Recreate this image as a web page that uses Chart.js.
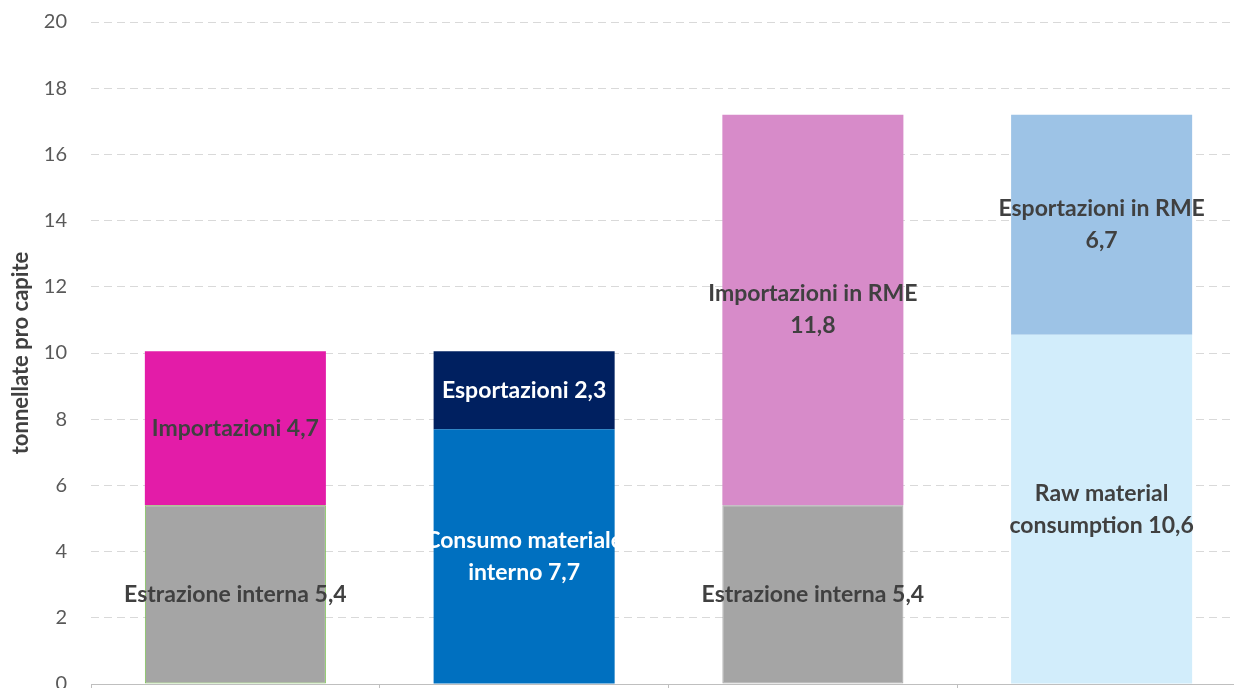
<!DOCTYPE html>
<html>
<head>
<meta charset="utf-8">
<script src="https://cdn.jsdelivr.net/npm/chart.js@4/dist/chart.umd.min.js"></script>
<style>
  html, body { margin: 0; padding: 0; background: #fff; overflow: hidden; }
  #wrap { width: 1260px; height: 720px; }
</style>
</head>
<body>
<div id="wrap"><canvas id="chart"></canvas></div>
<script>
// categories (x labels are cut off in the reference, so not shown)
const categories = ["DMI", "DMC", "RMI", "RMC"];

// stacked segments, bottom first (heights)
const estrazione     = [5.4, null, 5.4, null];
const importazioni   = [4.65, null, null, null];
const consumo        = [null, 7.7, null, null];
const esportazioni   = [null, 2.35, null, null];
const importRME      = [null, null, 11.8, null];
const rawConsumption = [null, null, null, 10.55];
const exportRME      = [null, null, null, 6.65];

// in-bar labels (one per segment)
const lblEstrazione   = ["Estrazione interna 5,4", null, "Estrazione interna 5,4", null];
const lblImport       = ["Importazioni 4,7", null, null, null];
const lblConsumo      = [null, "Consumo materiale\ninterno 7,7", null, null];
const lblEsport       = [null, "Esportazioni 2,3", null, null];
const lblImportRME    = [null, null, "Importazioni in RME\n11,8", null];
const lblRaw          = [null, null, null, "Raw material\nconsumption 10,6"];
const lblExportRME    = [null, null, null, "Esportazioni in RME\n6,7"];

const yTicks = [0, 2, 4, 6, 8, 10, 12, 14, 16, 18, 20];

const FONT = "Lato, 'Open Sans', sans-serif";

// draws centered labels inside each segment
const segmentLabelPlugin = {
  id: "segmentLabelPlugin",
  afterDatasetsDraw(chart) {
    const { ctx } = chart;
    ctx.save();
    ctx.font = `bold 23px ${FONT}`;
    ctx.textAlign = "center";
    ctx.textBaseline = "middle";
    chart.data.datasets.forEach((ds, di) => {
      const meta = chart.getDatasetMeta(di);
      meta.data.forEach((bar, i) => {
        const txt = ds.segLabels[i];
        if (!txt || ds.data[i] == null) return;
        const lines = txt.split("\n");
        const cy = (bar.y + bar.base) / 2;
        const lh = 32;
        ctx.fillStyle = ds.labelColor || "#404040";
        lines.forEach((ln, k) => {
          ctx.fillText(ln, bar.x, cy + (k - (lines.length - 1) / 2) * lh);
        });
      });
    });
    ctx.restore();
  }
};

const ctx = document.getElementById("chart").getContext("2d");

new Chart(ctx, {
  type: "bar",
  data: {
    labels: categories,
    datasets: [
      { label: "Estrazione interna", data: estrazione, segLabels: lblEstrazione,
        backgroundColor: "#a5a5a5",
        // only the first bar has the thin green outline
        borderColor: ["#7cc253", "#a5a5a5", "#a5a5a5", "#a5a5a5"],
        borderWidth: 1,
        inflateAmount: 0,
        borderSkipped: false },
      { label: "Importazioni", data: importazioni, segLabels: lblImport, backgroundColor: "#e31ca8" },
      { label: "Consumo materiale interno", data: consumo, segLabels: lblConsumo,
        backgroundColor: "#0070c0", labelColor: "#ffffff" },
      { label: "Esportazioni", data: esportazioni, segLabels: lblEsport,
        backgroundColor: "#002060", labelColor: "#ffffff" },
      { label: "Importazioni in RME", data: importRME, segLabels: lblImportRME, backgroundColor: "#d78bc9" },
      { label: "Raw material consumption", data: rawConsumption, segLabels: lblRaw, backgroundColor: "#d2edfb" },
      { label: "Esportazioni in RME", data: exportRME, segLabels: lblExportRME, backgroundColor: "#9dc3e6" }
    ]
  },
  options: {
    responsive: true,
    maintainAspectRatio: false,
    animation: false,
    categoryPercentage: 1,
    barPercentage: 0.627,
    layout: { padding: { top: 22, right: 14, left: 0, bottom: 0 } },
    plugins: {
      legend: { display: false },
      tooltip: { enabled: false }
    },
    scales: {
      x: {
        stacked: true,
        afterFit(s) { s.height = 36; },
        ticks: { display: false },
        grid: { offset: true, drawOnChartArea: false, drawTicks: true, tickLength: 12, color: "#bfbfbf" },
        border: { display: true, color: "#bfbfbf", width: 1 }
      },
      y: {
        stacked: true,
        min: 0,
        max: 20,
        afterFit(s) {
          s.width = 91;
          s.paddingTop = 0;
          s.paddingBottom = 0;
        },
        afterBuildTicks(s) { s.ticks = yTicks.map((v) => ({ value: v })); },
        ticks: { padding: 24, color: "#595959", font: { family: FONT, size: 20 } },
        grid: { color: "#d9d9d9", lineWidth: 1, drawTicks: false },
        border: { display: false, dash: [8, 5] },
        title: {
          display: true,
          text: "tonnellate pro capite",
          color: "#404040",
          font: { family: FONT, size: 22, weight: "bold" },
          padding: { top: 8, bottom: 0 }
        }
      }
    }
  },
  plugins: [segmentLabelPlugin]
});
</script>
</body>
</html>
